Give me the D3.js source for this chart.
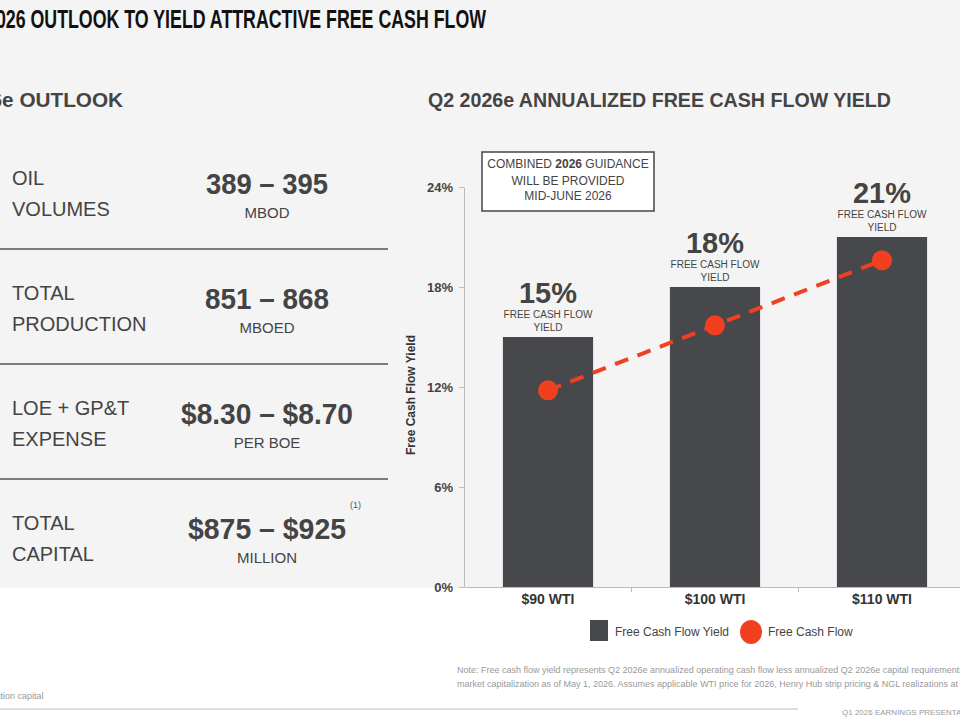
<!DOCTYPE html>
<html><head><meta charset="utf-8">
<script src="https://cdn.jsdelivr.net/npm/d3@7"></script>
<style>body{margin:0;background:#fff}text{font-family:"Liberation Sans",Arial,sans-serif}</style>
</head><body><svg id="c" width="960" height="720"></svg>
<script>
const categories = ['$90 WTI', '$100 WTI', '$110 WTI'];
const yieldValues = [15, 18, 21];
const cashFlowValues = [11.8, 15.7, 19.6];
const yTicks = [0, 6, 12, 18, 24];
const outlook = [
  { label: ['OIL', 'VOLUMES'], value: '389 – 395', unit: 'MBOD', w: 122 },
  { label: ['TOTAL', 'PRODUCTION'], value: '851 – 868', unit: 'MBOED', w: 124 },
  { label: ['LOE + GP&T', 'EXPENSE'], value: '$8.30 – $8.70', unit: 'PER BOE', w: 172 },
  { label: ['TOTAL', 'CAPITAL'], value: '$875 – $925', unit: 'MILLION', w: 158 }
];

const svg = d3.select('#c');
svg.append('rect').attr('width', 960).attr('height', 720).attr('fill', '#f4f4f4');
svg.append('rect').attr('y', 588).attr('width', 960).attr('height', 132).attr('fill', '#fff');

svg.append('text').attr('x', -14).attr('y', 28).attr('fill', '#111')
  .attr('font-weight', 'bold').attr('font-size', 26).attr('textLength', 500).attr('lengthAdjust', 'spacingAndGlyphs')
  .text('2026 OUTLOOK TO YIELD ATTRACTIVE FREE CASH FLOW');

svg.append('text').attr('x', -44).attr('y', 107).attr('fill', '#444')
  .attr('font-weight', 'bold').attr('font-size', 20).attr('textLength', 167).attr('lengthAdjust', 'spacingAndGlyphs').text('2026e OUTLOOK');
svg.append('text').attr('x', 428).attr('y', 107).attr('fill', '#444')
  .attr('font-weight', 'bold').attr('font-size', 20).attr('textLength', 463).attr('lengthAdjust', 'spacingAndGlyphs')
  .text('Q2 2026e ANNUALIZED FREE CASH FLOW YIELD');

// left panel
outlook.forEach((d, i) => {
  const y0 = 134 + i * 115;
  d.label.forEach((l, j) => svg.append('text').attr('x', 12).attr('y', y0 + 51 + j * 31)
    .attr('fill', '#444').attr('font-size', 20).text(l));
  svg.append('text').attr('x', 267 - d.w / 2).attr('y', y0 + 60)
    .attr('fill', '#444').attr('font-weight', 'bold').attr('font-size', 30)
    .attr('textLength', d.w).attr('lengthAdjust', 'spacingAndGlyphs').text(d.value);
  svg.append('text').attr('x', 267).attr('y', y0 + 84).attr('text-anchor', 'middle')
    .attr('fill', '#444').attr('font-size', 15).text(d.unit);
  if (i < 3) svg.append('line').attr('x1', 0).attr('x2', 388).attr('y1', y0 + 115).attr('y2', y0 + 115)
    .attr('stroke', '#555').attr('stroke-width', 1.5);
});
svg.append('text').attr('x', 350).attr('y', 508).attr('fill', '#555').attr('font-size', 9).text('(1)');

// chart
const x = d3.scaleBand().domain(categories).range([464.5, 965.5]).paddingInner(0.46).paddingOuter(0.23);
const y = d3.scaleLinear().domain([0, 24]).range([587, 187]);

svg.append('g').attr('transform', 'translate(464,0)')
  .call(d3.axisLeft(y).tickValues(yTicks).tickFormat(d => d + '%').tickSize(5).tickSizeOuter(0))
  .call(g => g.select('.domain').attr('stroke', '#bbb'))
  .call(g => g.selectAll('line').attr('stroke', '#bbb'))
  .call(g => g.selectAll('text').attr('fill', '#444').attr('font-weight', 'bold').attr('font-size', 13).attr('dx', -3));

svg.append('g').attr('transform', 'translate(0,587)')
  .call(d3.axisBottom(x).tickSize(0).tickSizeOuter(0))
  .call(g => g.select('.domain').attr('stroke', '#bbb'))
  .call(g => g.selectAll('text').attr('fill', '#333').attr('font-weight', 'bold').attr('font-size', 14).attr('dy', 14));
[1, 2].forEach(i => {
  const tx = x(categories[i]) - x.step() * 0.23;
  svg.append('line').attr('x1', tx).attr('x2', tx).attr('y1', 587).attr('y2', 592).attr('stroke', '#bbb');
});

svg.append('text').attr('transform', 'translate(415,395) rotate(-90)').attr('text-anchor', 'middle')
  .attr('fill', '#333').attr('font-weight', 'bold').attr('font-size', 12).text('Free Cash Flow Yield');

svg.selectAll('.bar').data(categories).join('rect').attr('class', 'bar')
  .attr('x', d => x(d)).attr('width', x.bandwidth())
  .attr('y', (d, i) => y(yieldValues[i])).attr('height', (d, i) => y(0) - y(yieldValues[i]))
  .attr('fill', '#47484c');

categories.forEach((c, i) => {
  const cx = x(c) + x.bandwidth() / 2, top = y(yieldValues[i]);
  svg.append('text').attr('x', cx - 29).attr('y', top - 34).attr('fill', '#444')
    .attr('font-weight', 'bold').attr('font-size', 30)
    .attr('textLength', 58).attr('lengthAdjust', 'spacingAndGlyphs').text(yieldValues[i] + '%');
  ['FREE CASH FLOW', 'YIELD'].forEach((t, j) => svg.append('text').attr('x', cx).attr('y', top - 19 + j * 13)
    .attr('text-anchor', 'middle').attr('fill', '#444').attr('font-size', 10).text(t));
});

const line = d3.line().x((d, i) => x(categories[i]) + x.bandwidth() / 2).y(d => y(d));
svg.append('path').datum(cashFlowValues).attr('d', line).attr('fill', 'none')
  .attr('stroke', '#f0401f').attr('stroke-width', 4).attr('stroke-dasharray', '14 10');
svg.selectAll('.dot').data(cashFlowValues).join('circle').attr('class', 'dot')
  .attr('cx', (d, i) => x(categories[i]) + x.bandwidth() / 2).attr('cy', d => y(d))
  .attr('r', 10).attr('fill', '#f0401f');

// guidance box
svg.append('rect').attr('x', 482).attr('y', 152).attr('width', 172).attr('height', 59)
  .attr('fill', '#fff').attr('stroke', '#444').attr('stroke-width', 1.5);
const gt = svg.append('text').attr('x', 568).attr('y', 168).attr('text-anchor', 'middle').attr('fill', '#444').attr('font-size', 12);
gt.append('tspan').text('COMBINED ');
gt.append('tspan').attr('font-weight', 'bold').text('2026');
gt.append('tspan').text(' GUIDANCE');
['WILL BE PROVIDED', 'MID-JUNE 2026'].forEach((t, j) => svg.append('text').attr('x', 568).attr('y', 185 + j * 15)
  .attr('text-anchor', 'middle').attr('fill', '#444').attr('font-size', 12).text(t));

// legend
svg.append('rect').attr('x', 590).attr('y', 620).attr('width', 18).attr('height', 21).attr('fill', '#47484c');
svg.append('text').attr('x', 615).attr('y', 636).attr('fill', '#444').attr('font-size', 12).text('Free Cash Flow Yield');
svg.append('ellipse').attr('cx', 751).attr('cy', 632).attr('rx', 11).attr('ry', 12).attr('fill', '#f0401f');
svg.append('text').attr('x', 768).attr('y', 636).attr('fill', '#444').attr('font-size', 12).text('Free Cash Flow');

// notes
['Note: Free cash flow yield represents Q2 2026e annualized operating cash flow less annualized Q2 2026e capital requirements divided by',
 'market capitalization as of May 1, 2026. Assumes applicable WTI price for 2026, Henry Hub strip pricing & NGL realizations at 22% of WTI']
  .forEach((t, j) => svg.append('text').attr('x', 457).attr('y', 673 + j * 14).attr('fill', '#999').attr('font-size', 9).text(t));
svg.append('text').attr('x', -80).attr('y', 699).attr('fill', '#999').attr('font-size', 9).text('(1) Excludes acquisition capital');
svg.append('line').attr('x1', 0).attr('x2', 798).attr('y1', 709).attr('y2', 709).attr('stroke', '#ddd').attr('stroke-width', 2);
svg.append('text').attr('x', 842).attr('y', 715).attr('fill', '#999').attr('font-size', 8).text('Q1 2026 EARNINGS PRESENTATION');
</script></body></html>
